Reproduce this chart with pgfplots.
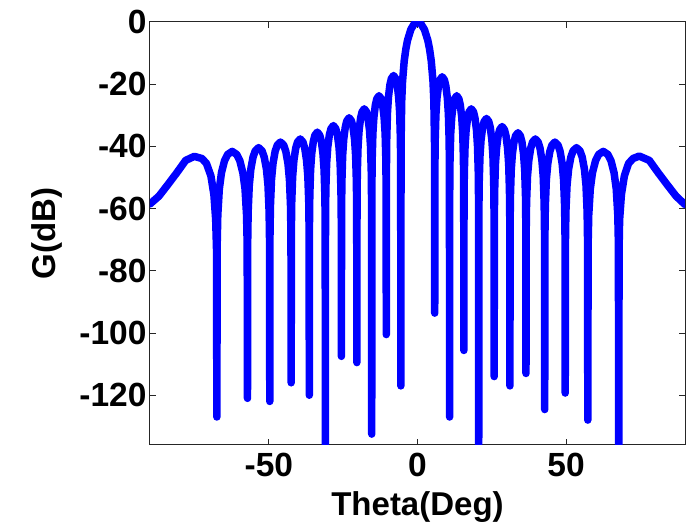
\documentclass[border=0pt]{standalone}
\usepackage{pgfplots}
\pgfplotsset{compat=1.18}
\usepackage{fontspec}
\setmainfont{Liberation Sans}
\begin{document}
\begin{tikzpicture}
\begin{axis}[
  scale only axis,
  width=535pt, height=423pt,
  xmin=-90, xmax=90, ymin=-136, ymax=0,
  axis line style={black!85, line width=1pt},
  tick style={black!85, line width=1pt},
  tick align=inside,
  major tick length=6pt,
  xtick={-50,0,50}, xticklabels={-50,0,50},
  ytick={-120,-100,-80,-60,-40,-20,0},
  yticklabels={-120,-100,-80,-60,-40,-20,0},
  ticklabel style={font=\bfseries\fontsize{33.5}{35}\selectfont},
  xticklabel style={yshift=-5pt},
  xlabel={Theta(Deg)}, ylabel={G(dB)},
  label style={font=\bfseries\fontsize{33}{35}\selectfont},
  xlabel style={at={(axis description cs:0.5,-0.1655)}, anchor=base},
  ylabel style={at={(axis description cs:-0.192,0.5)}, anchor=center},
  clip=true,
]
\addplot[color={rgb,255:red,0;green,0;blue,255}, line width=7.5pt, line join=round, line cap=round] coordinates {
(-90,-58.5) (-87,-56.0) (-84,-52.3) (-81,-48.5) (-78,-44.5) (-75.1,-43.2) (-72.5,-43.9) (-71.0,-45.5) (-69.5,-49.5) (-68.5,-55.5) (-67.9,-63.5) (-67.62,-73)
(-67.5,-127)
(-67.40,-71.7) (-67.19,-62.1) (-66.68,-53.7) (-65.96,-48.5) (-64.93,-44.6) (-63.90,-42.6) (-62.35,-41.6) (-60.80,-42.6) (-59.78,-44.6) (-58.75,-48.5) (-58.02,-53.7) (-57.51,-62.1) (-57.30,-71.7)
(-57.2,-121)
(-57.125,-70.5) (-56.975,-60.9) (-56.6,-52.5) (-56.075,-47.3) (-55.325,-43.4) (-54.575,-41.4) (-53.45,-40.4) (-52.325,-41.4) (-51.575,-43.4) (-50.825,-47.3) (-50.3,-52.5) (-49.925,-60.9) (-49.775,-70.5)
(-49.7,-122)
(-49.63,-68.7) (-49.48,-59.1) (-49.12,-50.7) (-48.62,-45.5) (-47.9,-41.6) (-47.18,-39.6) (-46.1,-38.6) (-45.02,-39.6) (-44.3,-41.6) (-43.58,-45.5) (-43.08,-50.7) (-42.72,-59.1) (-42.57,-68.7)
(-42.5,-116)
(-42.44,-67.7) (-42.32,-58.1) (-42.01,-49.7) (-41.59,-44.5) (-40.98,-40.6) (-40.37,-38.6) (-39.45,-37.6) (-38.54,-38.6) (-37.93,-40.6) (-37.32,-44.5) (-36.89,-49.7) (-36.58,-58.1) (-36.46,-67.7)
(-36.4,-120)
(-36.35,-65.5) (-36.24,-55.9) (-35.97,-47.5) (-35.59,-42.3) (-35.05,-38.4) (-34.51,-36.4) (-33.7,-35.4) (-32.89,-36.4) (-32.35,-38.4) (-31.81,-42.3) (-31.43,-47.5) (-31.16,-55.9) (-31.05,-65.5)
(-31.0,-145)
(-30.95,-63.4) (-30.84,-53.8) (-30.57,-45.4) (-30.19,-40.2) (-29.65,-36.3) (-29.11,-34.3) (-28.3,-33.3) (-27.49,-34.3) (-26.95,-36.3) (-26.41,-40.2) (-26.03,-45.4) (-25.76,-53.8) (-25.65,-63.4)
(-25.6,-107.5)
(-25.55,-60.9) (-25.44,-51.3) (-25.18,-42.9) (-24.82,-37.7) (-24.3,-33.8) (-23.78,-31.8) (-23.0,-30.8) (-22.22,-31.8) (-21.7,-33.8) (-21.18,-37.7) (-20.82,-42.9) (-20.56,-51.3) (-20.45,-60.9)
(-20.4,-109.5)
(-20.35,-58.0) (-20.25,-48.4) (-20.0,-40.0) (-19.65,-34.8) (-19.15,-30.9) (-18.65,-28.9) (-17.9,-27.9) (-17.15,-28.9) (-16.65,-30.9) (-16.15,-34.8) (-15.8,-40.0) (-15.55,-48.4) (-15.45,-58.0)
(-15.4,-132.5)
(-15.35,-53.8) (-15.25,-44.2) (-15.01,-35.8) (-14.67,-30.6) (-14.18,-26.7) (-13.69,-24.7) (-12.95,-23.7) (-12.22,-24.7) (-11.73,-26.7) (-11.24,-30.6) (-10.89,-35.8) (-10.65,-44.2) (-10.55,-53.8)
(-10.5,-100.5)
(-10.45,-47.3) (-10.35,-37.7) (-10.11,-29.3) (-9.77,-24.1) (-9.28,-20.2) (-8.79,-18.2) (-8.05,-17.2) (-7.32,-18.2) (-6.83,-20.2) (-6.34,-24.1) (-5.99,-29.3) (-5.75,-37.7) (-5.65,-47.3)
(-5.6,-117)
(-5.54,-39.9) (-5.32,-25.6) (-5.04,-19.2) (-4.48,-12.6) (-3.92,-8.7) (-3.36,-5.9) (-2.24,-2.4) (-1.12,-0.6) (0,0) (1.16,-0.6) (2.32,-2.4) (3.48,-5.9) (4.06,-8.7) (4.64,-12.6) (5.22,-19.2) (5.51,-25.6) (5.74,-39.9)
(5.8,-93.6)
(5.85,-47.7) (5.95,-38.1) (6.2,-29.7) (6.55,-24.5) (7.05,-20.6) (7.55,-18.6) (8.3,-17.6) (9.05,-18.6) (9.55,-20.6) (10.05,-24.5) (10.4,-29.7) (10.65,-38.1) (10.75,-47.7)
(10.8,-127)
(10.85,-53.8) (10.94,-44.2) (11.18,-35.8) (11.52,-30.6) (12.0,-26.7) (12.48,-24.7) (13.2,-23.7) (13.92,-24.7) (14.4,-26.7) (14.88,-30.6) (15.22,-35.8) (15.46,-44.2) (15.55,-53.8)
(15.6,-105.6)
(15.65,-58.0) (15.75,-48.4) (16.0,-40.0) (16.35,-34.8) (16.85,-30.9) (17.35,-28.9) (18.1,-27.9) (18.85,-28.9) (19.35,-30.9) (19.85,-34.8) (20.2,-40.0) (20.45,-48.4) (20.55,-58.0)
(20.6,-145)
(20.65,-61.1) (20.76,-51.5) (21.02,-43.1) (21.38,-37.9) (21.9,-34.0) (22.42,-32.0) (23.2,-31.0) (23.98,-32.0) (24.5,-34.0) (25.02,-37.9) (25.38,-43.1) (25.64,-51.5) (25.75,-61.1)
(25.8,-114)
(25.85,-63.7) (25.96,-54.1) (26.22,-45.7) (26.6,-40.5) (27.13,-36.6) (27.66,-34.6) (28.45,-33.6) (29.25,-34.6) (29.78,-36.6) (30.3,-40.5) (30.68,-45.7) (30.94,-54.1) (31.05,-63.7)
(31.1,-117)
(31.15,-65.7) (31.26,-56.1) (31.53,-47.7) (31.91,-42.5) (32.45,-38.6) (32.99,-36.6) (33.8,-35.6) (34.61,-36.6) (35.15,-38.6) (35.69,-42.5) (36.07,-47.7) (36.34,-56.1) (36.45,-65.7)
(36.5,-113)
(36.56,-67.7) (36.69,-58.1) (37.0,-49.7) (37.45,-44.5) (38.08,-40.6) (38.71,-38.6) (39.65,-37.6) (40.6,-38.6) (41.23,-40.6) (41.86,-44.5) (42.3,-49.7) (42.61,-58.1) (42.74,-67.7)
(42.8,-124.6)
(42.87,-68.7) (43.01,-59.1) (43.35,-50.7) (43.84,-45.5) (44.53,-41.6) (45.22,-39.6) (46.25,-38.6) (47.29,-39.6) (47.98,-41.6) (48.67,-45.5) (49.15,-50.7) (49.49,-59.1) (49.63,-68.7)
(49.7,-119.3)
(49.78,-70.5) (49.93,-60.9) (50.31,-52.5) (50.84,-47.3) (51.6,-43.4) (52.36,-41.4) (53.5,-40.4) (54.64,-41.4) (55.4,-43.4) (56.16,-47.3) (56.69,-52.5) (57.07,-60.9) (57.22,-70.5)
(57.3,-128)
(57.4,-71.7) (57.61,-62.1) (58.13,-53.7) (58.86,-48.5) (59.9,-44.6) (60.94,-42.6) (62.5,-41.6) (64.06,-42.6) (65.1,-44.6) (66.14,-48.5) (66.87,-53.7) (67.39,-62.1) (67.6,-71.7)
(67.7,-145)
(67.82,-73) (68.0,-63.5) (68.6,-55.5) (69.6,-49.5) (71.0,-45.5) (72.5,-43.9) (74.6,-43.1) (78.0,-44.5) (81.0,-48.5) (84.0,-52.3) (87.0,-56.0) (90,-58.7)
};
\end{axis}
\pgfresetboundingbox
\path[use as bounding box] ([shift={(-150pt,-83pt)}]current axis.south west) rectangle ([shift={(10pt,22pt)}]current axis.north east);
\end{tikzpicture}
\end{document}
